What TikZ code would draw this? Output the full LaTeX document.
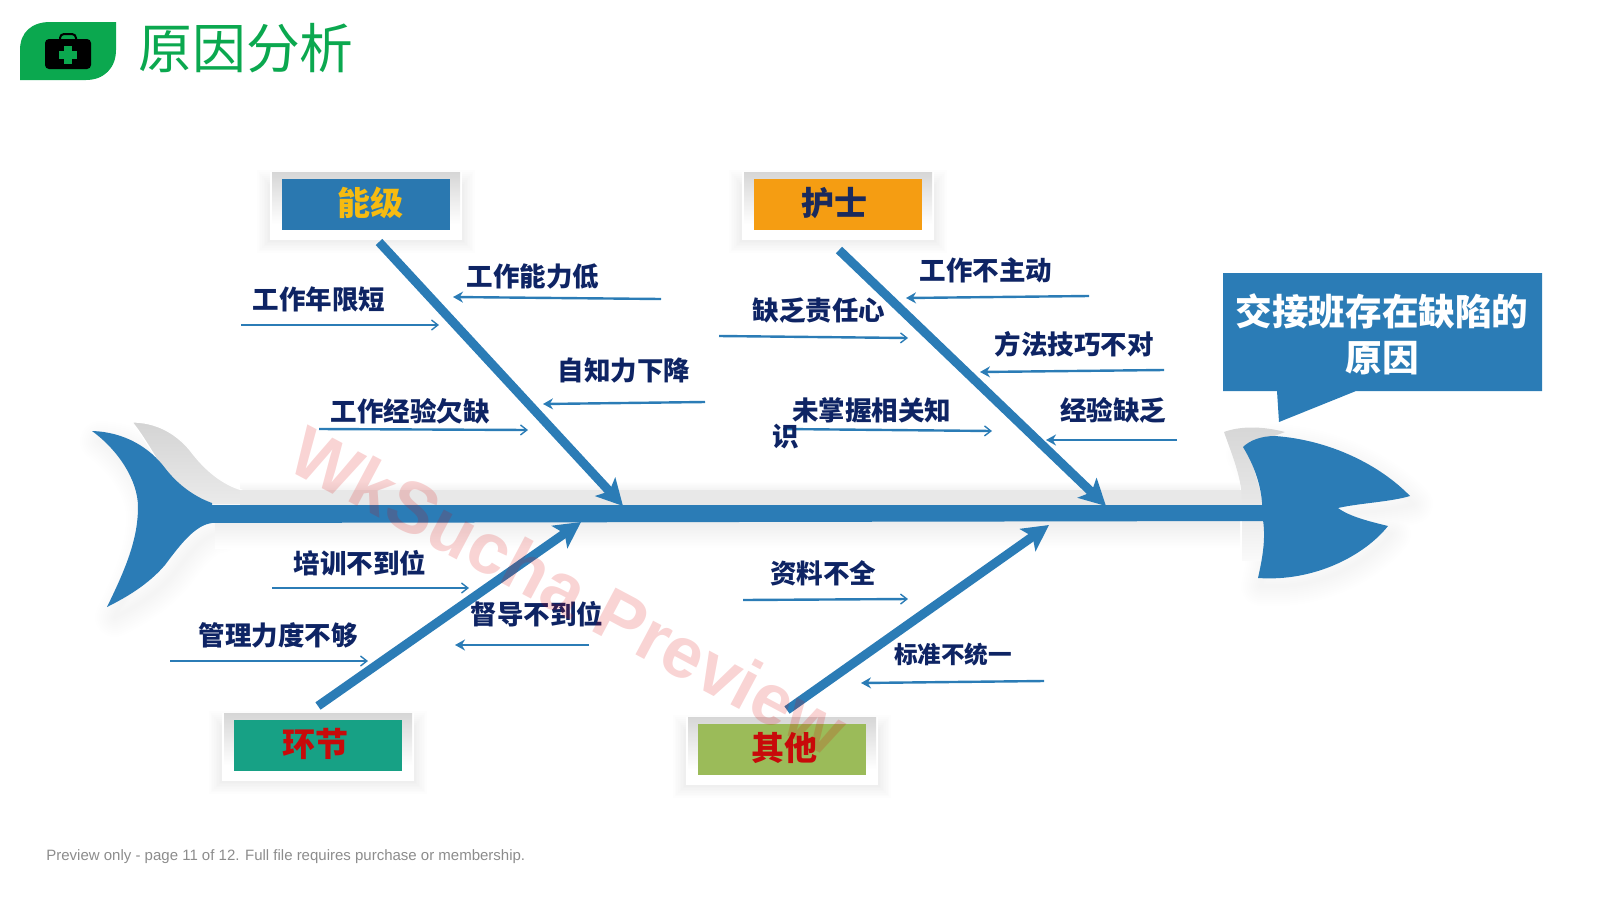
\documentclass[tikz,border=0pt]{standalone}
\usepackage{fontspec}
\setmainfont{Liberation Sans}
\newfontfamily\cjk{Noto Sans CJK SC}
\newfontfamily\wmfont{Liberation Sans}
\usetikzlibrary{arrows.meta}
\definecolor{BoneBlue}{HTML}{2B7CB6}
\definecolor{TitleGreen}{HTML}{0BA84F}
\definecolor{LabelNavy}{HTML}{0E2464}
\definecolor{BoxBlue}{HTML}{2A78B0}
\definecolor{BoxOrange}{HTML}{F59D12}
\definecolor{BoxTeal}{HTML}{17A185}
\definecolor{BoxGreen}{HTML}{9BBB59}
\definecolor{BoxRed}{HTML}{C80A0A}
\definecolor{BoxGold}{HTML}{F6BB10}
\definecolor{BoxInk}{HTML}{1B2A5C}
\tikzset{
  BigBone/.style={line width=4.5pt,BoneBlue,-{Stealth[length=13pt,width=13.5pt,inset=3pt]}},
  OpenTwig/.style={line width=1.2pt,BoneBlue,-{Straight Barb[length=3.2pt,width=5pt,line width=.7pt]}},
  FullTwig/.style={line width=1.2pt,BoneBlue,-{Stealth[length=5pt,width=5.5pt]}},
  TwigLabel/.style={font=\cjk\bfseries\fontsize{13.25}{15}\selectfont,text=LabelNavy,inner sep=0pt},
  TagLabel/.style={font=\cjk\bfseries\fontsize{16.5}{18}\selectfont,inner sep=0pt},
}
% tag with soft shadow: name, left, top, fill, text colour, text, text shift
\newcommand{\BoneTag}[7]{
  \foreach \d in {2,4,...,16}
    \fill[black,opacity=.007] (#2-\d*.8,#3+14-\d) rectangle (#2+192+\d*.8,#3+68+\d*.8);
  \fill[white] (#2,#3) rectangle (#2+192,#3+68);
  \shade[top color=black!16,bottom color=white] (#2+2,#3) rectangle (#2+190,#3+52);
  \node[fill=#4,minimum width=84pt,minimum height=25.5pt,inner sep=0pt] (#1) at (#2+96,#3+32) {};
  \node[text=#5,TagLabel] (#1text) at (#2+96+#7,#3+31) {#6};
}
\def\HeadPath{(1243,447) .. controls (1250,440) and (1262,436) .. (1275,436) .. controls (1330,440) and (1380,465) .. (1410,496) .. controls (1390,502) and (1360,503) .. (1338,508) .. controls (1350,517) and (1372,522) .. (1388,526) .. controls (1365,555) and (1315,582) .. (1258,578) .. controls (1262,560) and (1266,540) .. (1263,520) -- (1262,502) .. controls (1260,480) and (1252,462) .. (1243,447) -- cycle}
\def\TailPath{(92,431) .. controls (125,432) and (150,448) .. (165,468) .. controls (178,485) and (195,497) .. (212,503) -- (212,523) .. controls (195,525) and (180,545) .. (165,565) .. controls (148,585) and (125,598) .. (107,607) .. controls (125,570) and (138,540) .. (138,507) .. controls (138,480) and (118,450) .. (92,431) -- cycle}
\begin{document}
\begin{tikzpicture}[x=0.5pt,y=-0.5pt]
\useasboundingbox (0,0) rectangle (1601,900);

% header
\fill[TitleGreen] (20,80) -- (20,50) .. controls (20,32) and (32,22) .. (50,22) -- (116,22) -- (116,50) .. controls (116,68) and (104,80) .. (86,80) -- cycle;
\draw[black,line width=1pt,rounded corners=2pt] (60,39) -- (60,34) -- (76,34) -- (76,39);
\fill[black,rounded corners=2pt] (45,39) rectangle (91,69);
\fill[TitleGreen] (64,46) rectangle (72,64);
\fill[TitleGreen] (59,51) rectangle (77,59);
\node[inner sep=0pt,text=TitleGreen,font=\cjk\fontsize{26.9}{30}\selectfont,anchor=west] (title) at (138,48) {原因分析};

% shadows and grey backing of the fish
\foreach \w in {4,8,...,40}
  \draw[black,opacity=.005,line width=\w*0.5pt,line join=round,shift={(3,8)}] \HeadPath;
\foreach \w in {4,8,...,40}
  \draw[black,opacity=.005,line width=\w*0.5pt,line join=round,shift={(8,10)}] \TailPath;
\shade[top color=white,bottom color=black!5] (240,481) rectangle (1240,490);
\shade[top color=black!7,bottom color=white] (215,521) rectangle (1240,548);
\shade[top color=black!17,bottom color=black!8,draw=white,line width=.6pt] (132,422) .. controls (155,422) and (175,432) .. (190,450) .. controls (205,470) and (222,484) .. (242,490) -- (242,505) -- (210,505) .. controls (190,497) and (175,485) .. (160,465) .. controls (150,448) and (140,432) .. (132,422) -- cycle;
\fill[black!9] (240,490) rectangle (1244,505);
\shade[top color=black!16,bottom color=black!9] (1224,432) .. controls (1240,426) and (1262,426) .. (1285,432) -- (1245,447) .. controls (1252,462) and (1258,480) .. (1263,505) -- (1242,505) .. controls (1243,480) and (1232,455) .. (1224,432) -- cycle;
\shade[top color=black!7,bottom color=black!2] (1242,521) rectangle (1265,560);

% main fish
\fill[BoneBlue] (205,505) -- (1265,505) -- (1265,521) -- (205,523) -- cycle;
\fill[BoneBlue] \TailPath;
\fill[BoneBlue] \HeadPath;

% tags
\BoneTag{nengji}{270}{172}{BoxBlue}{BoxGold}{能级}{4}
\BoneTag{hushi}{742}{172}{BoxOrange}{BoxInk}{护士}{-4}
\BoneTag{huanjie}{222}{713}{BoxTeal}{BoxRed}{环节}{-3}
\BoneTag{qita}{686}{717}{BoxGreen}{BoxRed}{其他}{2}

% big bones
\coordinate (b1s) at (379,242);
\coordinate (b1e) at (623,506);
\coordinate (b2s) at (839,250);
\coordinate (b2e) at (1106,506);
\coordinate (b3s) at (318,706);
\coordinate (b3e) at (581,522);
\coordinate (b4s) at (787,710);
\coordinate (b4e) at (1049,525);
\draw[BigBone] (b1s) -- (b1e);
\draw[BigBone] (b2s) -- (b2e);
\draw[BigBone] (b3s) -- (b3e);
\draw[BigBone] (b4s) -- (b4e);

% twigs, upper left
\coordinate (t1s) at (241,325);
\coordinate (t1e) at (439,325);
\coordinate (t2s) at (661,299);
\coordinate (t2e) at (453,297);
\coordinate (t3s) at (705,402);
\coordinate (t3e) at (543,404);
\coordinate (t4s) at (319,429);
\coordinate (t4e) at (528,430);
\draw[OpenTwig] (t1s) -- (t1e);
\draw[FullTwig] (t2s) -- (t2e);
\draw[FullTwig] (t3s) -- (t3e);
\draw[OpenTwig] (t4s) -- (t4e);
\node[TwigLabel] (n1) at (319,299) {工作年限短};
\node[TwigLabel] (n2) at (533,276) {工作能力低};
\node[TwigLabel] (n3) at (624,370) {自知力下降};
\node[TwigLabel] (n4) at (410,411) {工作经验欠缺};

% twigs, upper right
\coordinate (t5s) at (719,336);
\coordinate (t5e) at (908,338);
\coordinate (t6s) at (1089,296);
\coordinate (t6e) at (906,298);
\coordinate (t7s) at (1164,370);
\coordinate (t7e) at (980,372);
\coordinate (t8s) at (1177,440);
\coordinate (t8e) at (1046,440);
\coordinate (t9s) at (783,429);
\coordinate (t9e) at (992,431);
\draw[OpenTwig] (t5s) -- (t5e);
\draw[FullTwig] (t6s) -- (t6e);
\draw[FullTwig] (t7s) -- (t7e);
\draw[FullTwig] (t8s) -- (t8e);
\draw[OpenTwig] (t9s) -- (t9e);
\node[TwigLabel] (n5) at (819,311) {缺乏责任心};
\node[TwigLabel] (n6) at (986,270) {工作不主动};
\node[TwigLabel] (n7) at (1074,344) {方法技巧不对};
\node[TwigLabel] (n8) at (1113,410) {经验缺乏};
\node[TwigLabel,align=left,anchor=north west] (n9) at (772,397) {\hspace{10pt}未掌握相关知\\[-2pt]识};

% twigs, lower
\coordinate (t10s) at (272,588);
\coordinate (t10e) at (469,588);
\coordinate (t11s) at (170,661);
\coordinate (t11e) at (368,661);
\coordinate (t12s) at (589,645);
\coordinate (t12e) at (455,645);
\coordinate (t13s) at (743,600);
\coordinate (t13e) at (908,599);
\coordinate (t14s) at (1044,681);
\coordinate (t14e) at (861,683);
\draw[OpenTwig] (t10s) -- (t10e);
\draw[OpenTwig] (t11s) -- (t11e);
\draw[FullTwig] (t12s) -- (t12e);
\draw[OpenTwig] (t13s) -- (t13e);
\draw[FullTwig] (t14s) -- (t14e);
\node[TwigLabel] (n10) at (360,563) {培训不到位};
\node[TwigLabel] (n11) at (278,635) {管理力度不够};
\node[TwigLabel] (n12) at (537,614) {督导不到位};
\node[TwigLabel] (n13) at (823,573) {资料不全};
\node[TwigLabel,font=\cjk\bfseries\fontsize{11.8}{14}\selectfont] (n14) at (953,654) {标准不统一};

% callout
\fill[BoneBlue] (1223,273) -- (1542,273) -- (1542,391) -- (1356,391) -- (1279,422) -- (1277,391) -- (1223,391) -- cycle;
\node[inner sep=0pt,text=white,align=center,font=\cjk\bfseries\fontsize{18.3}{23}\selectfont] (effect) at (1382,334) {交接班存在缺陷的\\原因};

% watermark and footer
\node[inner sep=0pt,rotate=-28,text=red!85!black,opacity=.17,font=\wmfont\bfseries\fontsize{36}{40}\selectfont] (wm) at (569,590) {WkSucha Preview};
\node[inner sep=0pt,anchor=west,text=black!45,font=\fontsize{7.5}{9}\selectfont] (foot) at (46,857) {Preview only - page 11 of 12. Full file requires purchase or membership.};
\end{tikzpicture}
\end{document}
